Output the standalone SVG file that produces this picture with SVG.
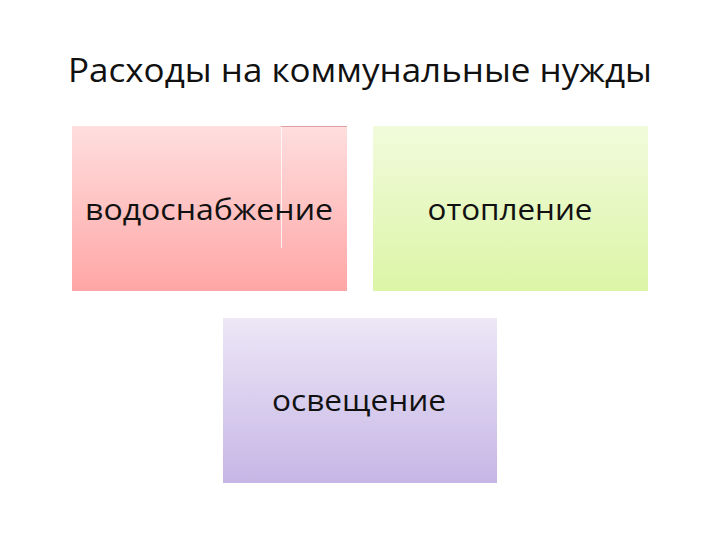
<svg xmlns="http://www.w3.org/2000/svg" width="720" height="540" viewBox="0 0 720 540">
<defs>
<linearGradient id="gPink" x1="0" y1="0" x2="0" y2="1"><stop offset="0" stop-color="#ffdede"/><stop offset="1" stop-color="#ffa6a6"/></linearGradient>
<linearGradient id="gGreen" x1="0" y1="0" x2="0" y2="1"><stop offset="0" stop-color="#f1fbdc"/><stop offset="1" stop-color="#dcf5a6"/></linearGradient>
<linearGradient id="gPurple" x1="0" y1="0" x2="0" y2="1"><stop offset="0" stop-color="#ede7f6"/><stop offset="1" stop-color="#c6b6e6"/></linearGradient>
<style>
text{font-family:"Open Sans","Noto Sans","DejaVu Sans",sans-serif;fill:#111}
.lbl{font-size:29px;text-anchor:middle}
</style>
</defs>
<rect width="720" height="540" fill="#fff"/>
<text x="360" y="82" style="font-size:33px" text-anchor="middle" textLength="584" lengthAdjust="spacingAndGlyphs">Расходы на коммунальные нужды</text>
<g id="node-water">
<rect x="72" y="126" width="275" height="165" fill="url(#gPink)"/>
<line x1="281.5" y1="126" x2="281.5" y2="248" stroke="#ffffff" stroke-width="1" opacity="0.8"/>
<line x1="281" y1="126.5" x2="347" y2="126.5" stroke="#e0a0a0" stroke-width="1"/>
<text class="lbl" x="209" y="220" textLength="248" lengthAdjust="spacingAndGlyphs">водоснабжение</text>
</g>
<g id="node-heat">
<rect x="373" y="126" width="275" height="165" fill="url(#gGreen)"/>
<text class="lbl" x="510" y="220" textLength="165" lengthAdjust="spacingAndGlyphs">отопление</text>
</g>
<g id="node-light">
<rect x="223" y="318" width="274" height="165" fill="url(#gPurple)"/>
<text class="lbl" x="359" y="411" textLength="174" lengthAdjust="spacingAndGlyphs">освещение</text>
</g>
<g id="connectors"/>
</svg>
